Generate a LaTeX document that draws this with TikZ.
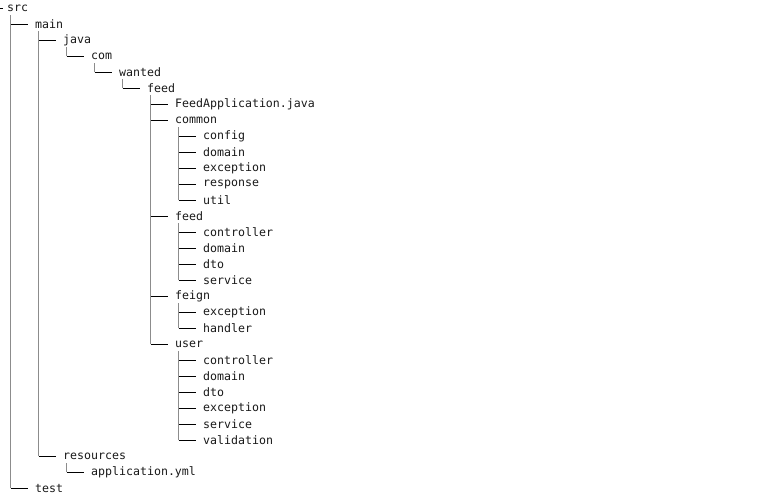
\documentclass[tikz,border=0pt]{standalone}
\usepackage{fontspec}
\setmonofont{DejaVu Sans Mono}
\usepackage{tikz}
\usetikzlibrary{calc}

\tikzset{
  entry/.style={anchor=west,inner sep=0pt,font=\ttfamily\fontsize{11.6}{14}\selectfont,text=black!90},
  trunk/.style={draw=black!45,line width=1.6pt},
  stub/.style={draw=black,line width=0.9pt}
}

\begin{document}
\begin{tikzpicture}[x=1pt,y=1pt]
         \useasboundingbox (0,0) rectangle (776,-496);
         % one row per entry: level/text
         \foreach \lvl/\name [count=\i] in {0/src,1/main,2/java,3/com,4/wanted,5/feed,6/FeedApplication.java,6/common,7/config,7/domain,7/exception,7/response,7/util,6/feed,7/controller,7/domain,7/dto,7/service,6/feign,7/exception,7/handler,6/user,7/controller,7/domain,7/dto,7/exception,7/service,7/validation,2/resources,3/application.yml,1/test} {\node[entry] (n\i) at (7+\lvl*28,-8-\i*16+16) {\name}; }
         % parent/child links
         \foreach \p/\c in {1/2,1/31,2/3,2/29,3/4,4/5,5/6,6/7,6/8,6/14,6/19,6/22,8/9,8/10,8/11,8/12,8/13,14/15,14/16,14/17,14/18,19/20,19/21,22/23,22/24,22/25,22/26,22/27,22/28,29/30} {
           \draw[trunk] ($(n\p.west)+(3.5,-7)$) -- ([xshift=3.5]n\p.west |- n\c.west);
           \draw[stub] ([xshift=3.5]n\p.west |- n\c.west) -- ([xshift=-7]n\c.west); }
         \draw[stub] ([xshift=-7]n1.west) -- ([xshift=-4.5]n1.west);
      \end{tikzpicture}
\end{document}
